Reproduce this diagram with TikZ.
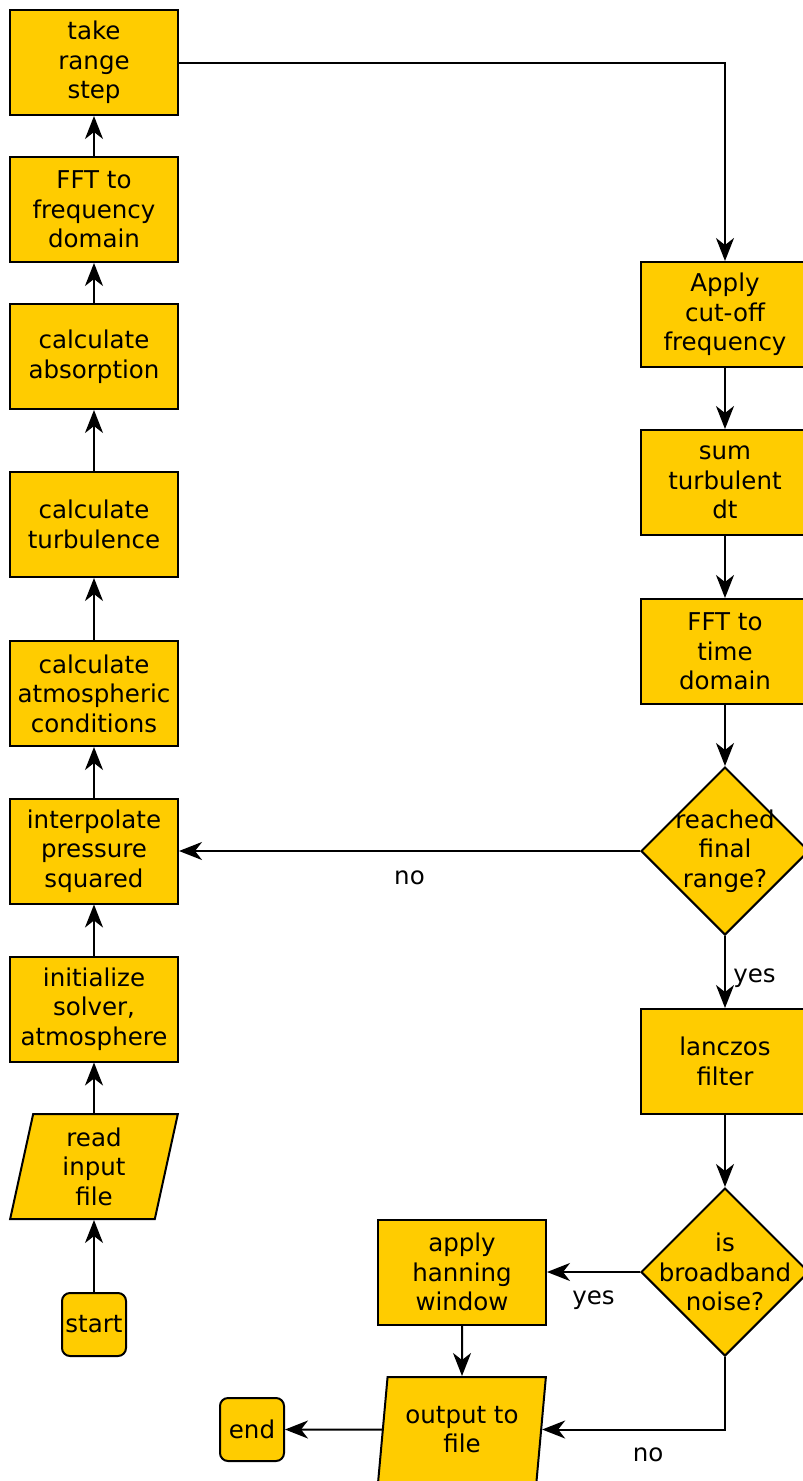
\documentclass[tikz,border=0pt]{standalone}
\usepackage{fontspec}
\setmainfont{DejaVu Sans}
\usetikzlibrary{shapes.geometric,arrows.meta}
\definecolor{boxfill}{HTML}{FFCC00}
\begin{document}
\begin{tikzpicture}[x=1pt,y=-1pt,
    every node/.style={font=\fontsize{24.5}{29.5}\selectfont, align=center},
    proc/.style={draw, line width=2pt, fill=boxfill, minimum width=168pt, minimum height=105pt, inner sep=0pt},
    term/.style={draw, line width=2pt, fill=boxfill, rounded corners=8pt, minimum width=64pt, minimum height=63pt, inner sep=0pt},
    io/.style={draw, line width=2pt, fill=boxfill, trapezium, trapezium left angle=81.3, trapezium right angle=98.7, trapezium stretches, minimum width=168pt, minimum height=105pt, inner sep=0pt},
    decide/.style={draw, line width=2pt, fill=boxfill, diamond, minimum width=168pt, minimum height=168pt, inner sep=0pt},
    flow/.style={line width=2pt, -{Stealth[length=23pt,width=18pt,inset=7pt]}}]
            \clip (0,0) rectangle (803,1481);
            % left column, read bottom to top
            \node[proc] (take) at (94,62.5) {take\\range\\step};
            \node[proc] (fftf) at (94,209.5) {FFT to\\frequency\\domain};
            \node[proc] (absorb) at (94,356.5) {calculate\\absorption};
            \node[proc] (turb) at (94,524.5) {calculate\\turbulence};
            \node[proc] (atmos) at (94,693.5) {calculate\\atmospheric\\conditions};
            \node[proc] (interp) at (94,851) {interpolate\\pressure\\squared};
            \node[proc] (init) at (94,1009) {initialize\\solver,\\atmosphere};
            \node[io] (read) at (94,1166.5) {read\\input\\file};
            \node[term] (start) at (94,1324.5) {start};
            % right column
            \node[proc] (cutoff) at (725,314.5) {Apply\\cut-off\\frequency};
            \node[proc] (sumdt) at (725,482.5) {sum\\turbulent\\dt};
            \node[proc] (fftt) at (725,651.5) {FFT to\\time\\domain};
            \node[decide, label={center:reached\\final\\range?}] (final) at (725,851) {};
            \node[proc] (lanczos) at (725,1061.5) {lanczos\\filter};
            \node[decide, label={center:is\\broadband\\noise?}] (broad) at (725,1272) {};
            \node[proc] (hann) at (462,1272) {apply\\hanning\\window};
            \node[io] (out) at (462,1429.5) {output to\\file};
            \node[term] (end) at (252,1429.5) {end};
            \draw[flow] (start) -- (read);
            \draw[flow] (read) -- (init);
            \draw[flow] (init) -- (interp);
            \draw[flow] (interp) -- (atmos);
            \draw[flow] (atmos) -- (turb);
            \draw[flow] (turb) -- (absorb);
            \draw[flow] (absorb) -- (fftf);
            \draw[flow] (fftf) -- (take);
            \draw[flow] (take.east) -| (cutoff.north);
            \draw[flow] (cutoff) -- (sumdt);
            \draw[flow] (sumdt) -- (fftt);
            \draw[flow] (fftt) -- (final);
            \draw[flow] (final.west) -- (interp.east) node[midway, below=15pt]{no};
            \draw[flow] (final) -- (lanczos) node[pos=0.58, right=4pt]{yes};
            \draw[flow] (lanczos) -- (broad);
            \draw[flow] (broad.west) -- (hann.east) node[midway, below=14pt]{yes};
            \draw[flow] (broad.south) |- (out.east) node[pos=0.71, below=14pt]{no};
            \draw[flow] (hann) -- (out);
            \draw[flow] (out) -- (end);
        \end{tikzpicture}
\end{document}
